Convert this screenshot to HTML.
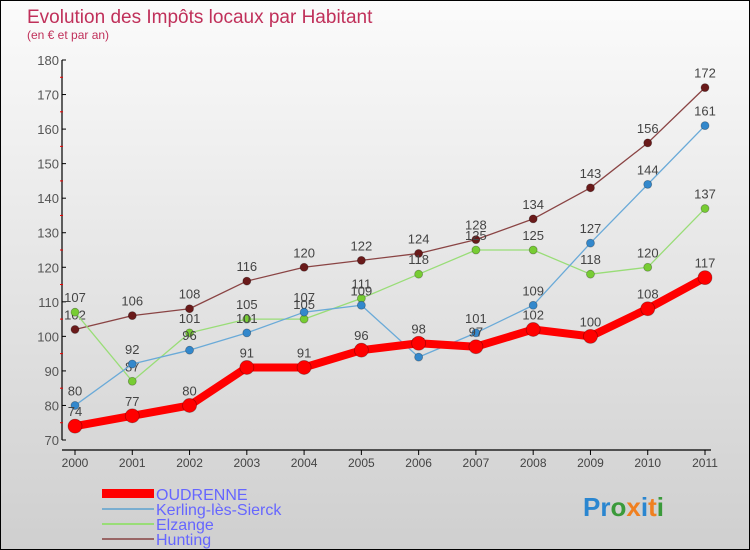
<!DOCTYPE html>
<html><head><meta charset="utf-8"><style>
body{margin:0}
#c{width:748px;height:548px;border:1px solid #000;background:linear-gradient(#fbfbfb,#cfcfcf);position:relative;font-family:"Liberation Sans",sans-serif;overflow:hidden}
</style></head><body>
<div id="c">
<svg id="s" width="748" height="548">
<text x="26" y="22" font-size="19" fill="#c0305a">Evolution des Impôts locaux par Habitant</text>
<text x="26" y="38" font-size="12" fill="#c0305a">(en € et par an)</text>
<g id="g"></g>
<g>
<rect x="101" y="488" width="52" height="9" fill="#f00"/>
<text x="155" y="499" font-size="16" fill="#6666ff">OUDRENNE</text>
<rect x="101" y="507" width="52" height="2" fill="#7aaed0"/>
<text x="155" y="514" font-size="16" fill="#6666ff">Kerling-lès-Sierck</text>
<rect x="101" y="522" width="52" height="2" fill="#99dd77"/>
<text x="155" y="529" font-size="16" fill="#6666ff">Elzange</text>
<rect x="101" y="537" width="52" height="2" fill="#996666"/>
<text x="155" y="544" font-size="16" fill="#6666ff">Hunting</text>
</g>
<text x="582" y="515" font-size="26" font-weight="bold"><tspan fill="#2a86d0">Pr</tspan><tspan fill="#3a9a3a">o</tspan><tspan fill="#f08020">x</tspan><tspan fill="#2a86d0">i</tspan><tspan fill="#f08020">t</tspan><tspan fill="#3a9a3a">i</tspan></text>
</svg>
</div>
<script>
const years=[2000,2001,2002,2003,2004,2005,2006,2007,2008,2009,2010,2011];
const oudrenne=[74,77,80,91,91,96,98,97,102,100,108,117];
const kerling=[80,92,96,101,107,109,94,101,109,127,144,161];
const elzange=[107,87,101,105,105,111,118,125,125,118,120,137];
const hunting=[102,106,108,116,120,122,124,128,134,143,156,172];
const yTicks=[70,80,90,100,110,120,130,140,150,160,170,180];
const NS="http://www.w3.org/2000/svg";
const g=document.getElementById('g');
const X=i=>74+i*(630/11);
const Y=v=>439-(v-70)*(380/110);
function mk(t,a){const e=document.createElementNS(NS,t);for(const k in a)e.setAttribute(k,a[k]);g.appendChild(e);return e;}
let e;
e=mk('line',{x1:61,y1:Y(180),x2:61,y2:Y(70),stroke:'#000','stroke-width':1.2});


e=mk('line',{x1:61,y1:449,x2:710,y2:449,stroke:'#000','stroke-width':1.2});


yTicks.forEach(v=>{
 e=mk('line',{x1:61,y1:Y(v),x2:65,y2:Y(v),stroke:'#000'});
 
 
 if(v<180){e=mk('line',{x1:59,y1:Y(v+5),x2:62,y2:Y(v+5),stroke:'#e00'});
 
 }
 e=mk('text',{x:58,y:Y(v)+5,'font-size':13,fill:'#555','text-anchor':'end'});e.textContent=v;
 
 
});
years.forEach((yr,i)=>{
 e=mk('line',{x1:X(i),y1:449,x2:X(i),y2:454,stroke:'#000'});
 
 
 e=mk('text',{x:X(i),y:466,'font-size':12,fill:'#444','text-anchor':'middle'});e.textContent=yr;
 
 
});
function series(d,col,dot,w,r,name){
 e=mk('polyline',{points:d.map((v,i)=>X(i)+','+Y(v)).join(' '),fill:'none',stroke:col,'stroke-width':w,'stroke-linejoin':'round'});
 
 
 d.forEach((v,i)=>{
  e=mk('circle',{cx:X(i),cy:Y(v),r:r,fill:dot,stroke:'rgba(0,0,0,0.3)','stroke-width':0.8});
  
  
  e=mk('text',{x:X(i),y:Y(v)-10,'font-size':13,fill:'#444','text-anchor':'middle'});e.textContent=v;
  
  
 });
}
series(hunting,'#8a4444','#6a1a1a',1.3,4,'hunting');
series(elzange,'#99dd77','#77cc33',1.3,4,'elzange');
series(kerling,'#6aaad8','#3388cc',1.3,4,'kerling');
series(oudrenne,'#f00','#f00',8,7,'oudrenne');
</script>
</body></html>
